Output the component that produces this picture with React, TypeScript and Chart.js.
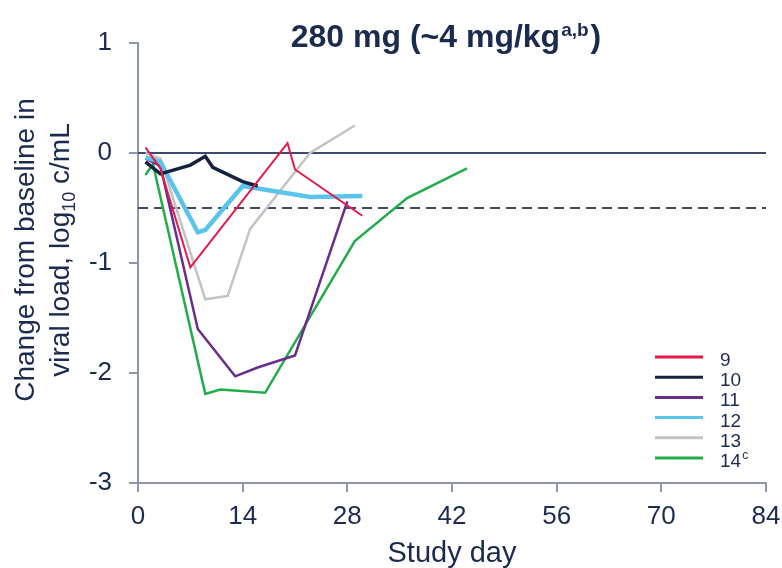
import { useEffect, useRef } from 'react';
import { Chart, registerables } from 'chart.js';

Chart.register(...registerables);

// ---------- data ----------
const SERIES_LABELS = ['9', '10', '11', '12', '13', '14'];
const SERIES_SUP = ['', '', '', '', '', 'c'];

const days9 = [1, 3, 7, 20, 21, 30];
const vals9 = [0.05, -0.14, -1.04, 0.09, -0.15, -0.57];

const days10 = [1, 3, 7, 9, 10, 14, 16];
const vals10 = [-0.08, -0.19, -0.11, -0.03, -0.13, -0.26, -0.3];

const days11 = [1, 3, 8, 13, 16, 21, 28];
const vals11 = [-0.05, -0.12, -1.6, -2.03, -1.95, -1.84, -0.44];

const days12 = [1, 3, 8, 9, 14, 23, 30];
const vals12 = [-0.04, -0.08, -0.72, -0.7, -0.3, -0.4, -0.39];

const days13 = [1, 3, 9, 12, 15, 23, 29];
const vals13 = [0.0, -0.05, -1.33, -1.3, -0.69, 0.0, 0.25];

const days14 = [1, 2, 9, 11, 17, 29, 36, 44];
const vals14 = [-0.2, -0.1, -2.19, -2.15, -2.18, -0.8, -0.41, -0.14];

const REF_DAYS = [0, 84];
const ZERO_LINE = [0, 0];
const THRESHOLD_LINE = [-0.5, -0.5];

const X_TICKS = [0, 14, 28, 42, 56, 70, 84];
const Y_TICKS = [1, 0, -1, -2, -3];

const TITLE_PARTS = ['280 mg (~4 mg/kg', 'a,b', ')'];
const Y_TITLE_LINE1 = 'Change from baseline in';
const Y_TITLE_LINE2 = ['viral load, log', '10', ' c/mL'];
const X_TITLE = 'Study day';

// ---------- styles ----------
const FF = '"Liberation Sans", Arial, Helvetica, sans-serif';
const TEXT = '#1b2a4f';
const AXIS = '#8c96ac';
const REF = '#3c4a6c';
const COLORS = ['#e5194b', '#15223f', '#6b2c8f', '#5bc4ea', '#c3c3c3', '#22ad4b'];
const WIDTHS = [2, 3.5, 2.5, 4.5, 2.5, 2.5];
const ORDERS = [0, 1, 3, 2, 5, 4];

const zip = (xs: number[], ys: number[]) => xs.map((x, i) => ({ x, y: ys[i] }));

const SERIES = [
  zip(days9, vals9),
  zip(days10, vals10),
  zip(days11, vals11),
  zip(days12, vals12),
  zip(days13, vals13),
  zip(days14, vals14),
];

const textPlugin = {
  id: 'customTexts',
  afterDraw(chart: any) {
    const ctx = chart.ctx as CanvasRenderingContext2D;
    const area = chart.chartArea;
    ctx.save();
    ctx.fillStyle = TEXT;
    ctx.textBaseline = 'alphabetic';
    ctx.textAlign = 'left';

    // Title
    const tBig = `bold 32px ${FF}`;
    const tSmall = `bold 19px ${FF}`;
    ctx.font = tBig;
    const w1 = ctx.measureText(TITLE_PARTS[0]).width;
    const w3 = ctx.measureText(TITLE_PARTS[2]).width;
    ctx.font = tSmall;
    const w2 = ctx.measureText(TITLE_PARTS[1]).width;
    const tcx = 446;
    let tx = tcx - (w1 + w2 + w3 + 3) / 2;
    const tBase = 47;
    ctx.font = tBig;
    ctx.fillText(TITLE_PARTS[0], tx, tBase);
    tx += w1;
    ctx.font = tSmall;
    ctx.fillText(TITLE_PARTS[1], tx + 1, tBase - 11);
    tx += w2 + 3;
    ctx.font = tBig;
    ctx.fillText(TITLE_PARTS[2], tx, tBase);

    // Y title (rotated, two lines)
    const yc = 250;
    ctx.save();
    ctx.translate(34, yc);
    ctx.rotate(-Math.PI / 2);
    ctx.font = `28px ${FF}`;
    ctx.textAlign = 'center';
    ctx.fillText(Y_TITLE_LINE1, 0, 0);
    ctx.restore();

    ctx.save();
    ctx.translate(69, yc);
    ctx.rotate(-Math.PI / 2);
    ctx.textAlign = 'left';
    const big = `28px ${FF}`;
    const small = `18px ${FF}`;
    ctx.font = big;
    const a = ctx.measureText(Y_TITLE_LINE2[0]).width;
    const c = ctx.measureText(Y_TITLE_LINE2[2]).width;
    ctx.font = small;
    const b = ctx.measureText(Y_TITLE_LINE2[1]).width;
    let lx = -(a + b + c) / 2;
    ctx.font = big;
    ctx.fillText(Y_TITLE_LINE2[0], lx, 0);
    lx += a;
    ctx.font = small;
    ctx.fillText(Y_TITLE_LINE2[1], lx, 6);
    lx += b;
    ctx.font = big;
    ctx.fillText(Y_TITLE_LINE2[2], lx, 0);
    ctx.restore();

    // X title
    ctx.font = `29px ${FF}`;
    ctx.textAlign = 'center';
    ctx.fillText(X_TITLE, (area.left + area.right) / 2, 562);

    // Legend
    ctx.textAlign = 'left';
    const lgX0 = 655;
    const lgX1 = 703;
    const lgY0 = 357;
    const lgStep = 20.2;
    SERIES_LABELS.forEach((lab, i) => {
      const y = lgY0 + i * lgStep;
      ctx.strokeStyle = COLORS[i];
      ctx.lineWidth = 3;
      ctx.beginPath();
      ctx.moveTo(lgX0, y);
      ctx.lineTo(lgX1, y);
      ctx.stroke();
      ctx.fillStyle = TEXT;
      ctx.font = `19px ${FF}`;
      ctx.fillText(lab, 720, y + 9);
      if (SERIES_SUP[i]) {
        const w = ctx.measureText(lab).width;
        ctx.font = `12px ${FF}`;
        ctx.fillText(SERIES_SUP[i], 720 + w + 1, y + 1);
      }
    });
    ctx.restore();
  },
};

export default function App() {
  const ref = useRef<HTMLCanvasElement | null>(null);
  useEffect(() => {
    if (!ref.current) return;
    const datasets: any[] = SERIES.map((pts, i) => ({
      label: SERIES_LABELS[i],
      data: pts,
      borderColor: COLORS[i],
      backgroundColor: COLORS[i],
      borderWidth: WIDTHS[i],
      pointRadius: 0,
      tension: 0,
      fill: false,
      order: ORDERS[i],
    }));
    datasets.push({
      label: 'zero',
      data: zip(REF_DAYS, ZERO_LINE),
      borderColor: REF,
      borderWidth: 2,
      pointRadius: 0,
      fill: false,
      order: 10,
    });
    datasets.push({
      label: 'threshold',
      data: zip(REF_DAYS, THRESHOLD_LINE),
      borderColor: REF,
      borderWidth: 2.2,
      borderDash: [10, 6],
      pointRadius: 0,
      fill: false,
      order: 11,
    });

    const chart = new Chart(ref.current, {
      type: 'line',
      data: { datasets },
      options: {
        responsive: false,
        animation: false,
        devicePixelRatio: 1,
        layout: { padding: { top: 43, right: 16, left: 0, bottom: 0 } },
        plugins: {
          legend: { display: false },
          tooltip: { enabled: false },
          title: { display: false },
        },
        scales: {
          x: {
            type: 'linear',
            min: 0,
            max: 84,
            afterFit: (s: any) => {
              s.height = 85;
              s.paddingLeft = 0;
              s.paddingRight = 0;
            },
            afterBuildTicks: (s: any) => {
              s.ticks = X_TICKS.map((v) => ({ value: v }));
            },
            grid: { display: true, drawOnChartArea: false, drawTicks: true, tickLength: 9, color: AXIS, lineWidth: 2 },
            border: { display: true, color: AXIS, width: 2 },
            ticks: { color: TEXT, font: { family: FF, size: 26 }, padding: 9, maxRotation: 0 },
          },
          y: {
            type: 'linear',
            min: -3,
            max: 1,
            afterFit: (s: any) => {
              s.width = 138;
              s.paddingTop = 0;
              s.paddingBottom = 0;
            },
            afterBuildTicks: (s: any) => {
              s.ticks = Y_TICKS.map((v) => ({ value: v }));
            },
            grid: { display: true, drawOnChartArea: false, drawTicks: true, tickLength: 9, color: AXIS, lineWidth: 2 },
            border: { display: true, color: AXIS, width: 2 },
            ticks: { color: TEXT, font: { family: FF, size: 26 }, padding: 17 },
          },
        },
      },
      plugins: [textPlugin],
    });
    return () => chart.destroy();
  }, []);

  return (
    <div style={{ position: 'absolute', left: 0, top: 0, width: 782, height: 568, background: '#fff' }}>
      <canvas ref={ref} width={782} height={568} />
    </div>
  );
}
